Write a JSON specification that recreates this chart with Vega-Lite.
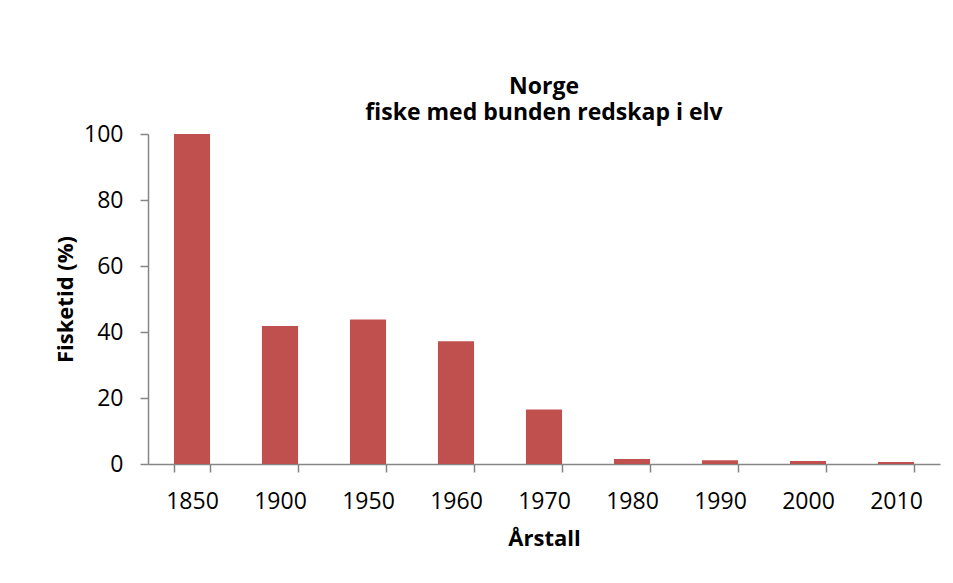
{
  "$schema": "https://vega.github.io/schema/vega-lite/v6.json",
  "width": 792,
  "height": 330,
  "autosize": {"type": "none"},
  "padding": {"left": 148, "top": 134, "right": 13, "bottom": 119},
  "background": "white",
  "config": {
    "view": {"stroke": null},
    "font": "Open Sans"
  },
  "title": {
    "text": ["Norge", "fiske med bunden redskap i elv"],
    "fontSize": 23,
    "fontWeight": "bold",
    "font": "Open Sans",
    "color": "black",
    "anchor": "middle",
    "offset": -2,
    "lineHeight": 26
  },
  "data": {
    "values": [
      {"year": "1850", "value": 100},
      {"year": "1900", "value": 41.8},
      {"year": "1950", "value": 43.8},
      {"year": "1960", "value": 37.2},
      {"year": "1970", "value": 16.5},
      {"year": "1980", "value": 1.5},
      {"year": "1990", "value": 1.1},
      {"year": "2000", "value": 0.9},
      {"year": "2010", "value": 0.6}
    ]
  },
  "mark": {"type": "bar", "color": "#C0504D"},
  "encoding": {
    "x": {
      "field": "year",
      "type": "ordinal",
      "scale": {"paddingInner": 0.59, "paddingOuter": 0.295},
      "axis": {
        "title": "Årstall",
        "titleFontSize": 22,
        "titleFontWeight": "bold",
        "titleColor": "black",
        "titlePadding": 15,
        "labelAngle": 0,
        "labelFontSize": 23,
        "labelColor": "black",
        "labelPadding": 18,
        "tickBand": "extent",
        "tickSize": 8,
        "tickColor": "#868686",
        "domainColor": "#868686",
        "tickWidth": 1.5,
        "domainWidth": 1.5,
        "grid": false
      }
    },
    "y": {
      "field": "value",
      "type": "quantitative",
      "scale": {"domain": [0, 100], "nice": false},
      "axis": {
        "title": "Fisketid (%)",
        "titleFontSize": 22,
        "titleFontWeight": "bold",
        "titleColor": "black",
        "titleX": -83,
        "titleY": 165,
        "titleBaseline": "middle",
        "values": [0, 20, 40, 60, 80, 100],
        "labelFontSize": 23,
        "labelColor": "black",
        "labelPadding": 17,
        "tickSize": 8,
        "tickColor": "#868686",
        "domainColor": "#868686",
        "tickWidth": 1.5,
        "domainWidth": 1.5,
        "grid": false
      }
    }
  }
}
